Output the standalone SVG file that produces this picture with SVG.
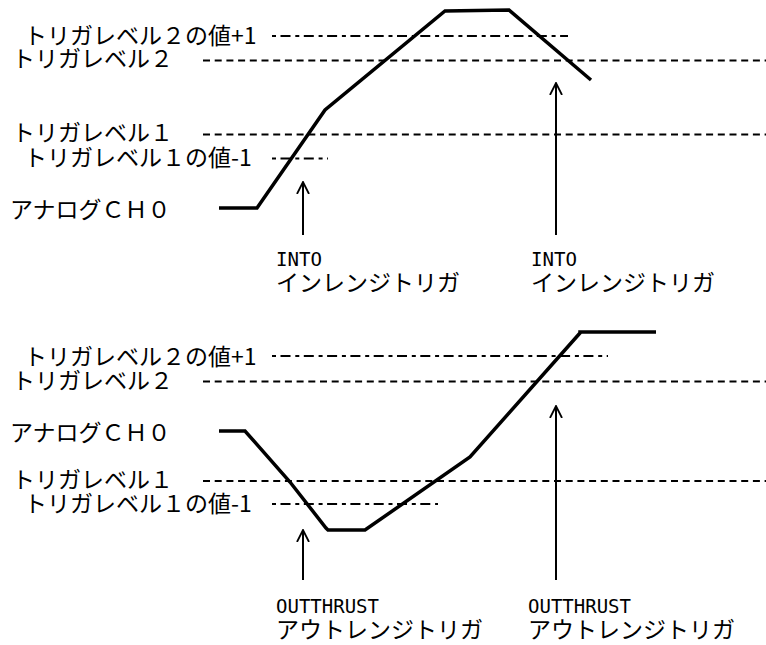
<svg xmlns="http://www.w3.org/2000/svg" width="766" height="645" viewBox="0 0 766 645">
<style>
.jp{font-family:"Noto Sans CJK JP","Noto Sans",sans-serif;font-size:23px;fill:#000}
.en{font-family:"DejaVu Sans Mono","Liberation Mono",monospace;font-size:20px;fill:#000}
.dash{stroke:#000;stroke-width:2;stroke-dasharray:7 4.7;fill:none}
.dd{stroke:#000;stroke-width:2;stroke-dasharray:4 4.5 10 4.8;fill:none}
.sig{stroke:#000;stroke-width:3.5;fill:none;stroke-linejoin:miter}
.arr{stroke:#000;stroke-width:2;fill:none;marker-end:url(#open)}
</style>
<defs>
<marker id="open" viewBox="0 0 13 14" refX="12" refY="7" markerWidth="13" markerHeight="14" markerUnits="userSpaceOnUse" orient="auto">
<path d="M0,1 L12,7 L0,13" fill="none" stroke="#000" stroke-width="1.8"/>
</marker>
</defs>
<g id="top-panel">
<g id="top-labels">
<text class="jp" x="24" y="44">トリガレベル２の値+1</text>
<text class="jp" x="12" y="67">トリガレベル２</text>
<text class="jp" x="12" y="141">トリガレベル１</text>
<text class="jp" x="24" y="166">トリガレベル１の値-1</text>
<text class="jp" x="10" y="218">アナログＣＨ０</text>
</g>
<g id="top-levels">
<line class="dd" x1="272" y1="36" x2="568" y2="36"/>
<line class="dash" x1="203" y1="60.5" x2="766" y2="60.5"/>
<line class="dash" x1="203" y1="134.5" x2="766" y2="134.5"/>
<line class="dd" x1="272" y1="158.5" x2="328" y2="158.5"/>
</g>
<polyline id="top-signal" class="sig" points="219,208 257,208 325,110 445,11 509,10 591,80"/>
<g id="top-into-left">
<text class="en" x="276" y="266" textLength="46" lengthAdjust="spacingAndGlyphs">INTO</text>
<text class="jp" x="276" y="291">インレンジトリガ</text>
</g>
<g id="top-into-right">
<text class="en" x="531" y="266" textLength="46" lengthAdjust="spacingAndGlyphs">INTO</text>
<text class="jp" x="531" y="291">インレンジトリガ</text>
</g>
</g>
<g id="bottom-panel">
<g id="bottom-labels">
<text class="jp" x="24" y="365">トリガレベル２の値+1</text>
<text class="jp" x="12" y="389">トリガレベル２</text>
<text class="jp" x="10" y="441">アナログＣＨ０</text>
<text class="jp" x="12" y="488">トリガレベル１</text>
<text class="jp" x="24" y="512">トリガレベル１の値-1</text>
</g>
<g id="bottom-levels">
<line class="dd" x1="272" y1="356" x2="608" y2="356"/>
<line class="dash" x1="203" y1="381.5" x2="766" y2="381.5"/>
<line class="dash" x1="203" y1="481" x2="766" y2="481"/>
<line class="dd" x1="272" y1="504" x2="438" y2="504"/>
</g>
<polyline id="bottom-signal" class="sig" points="219,431 245,431 290,482 326,528 328,530 365,530 470,457 580,333 580,332 656,332"/>
<g id="bottom-out-left">
<text class="en" x="276" y="613" textLength="103" lengthAdjust="spacingAndGlyphs">OUTTHRUST</text>
<text class="jp" x="276" y="638">アウトレンジトリガ</text>
</g>
<g id="bottom-out-right">
<text class="en" x="528" y="613" textLength="103" lengthAdjust="spacingAndGlyphs">OUTTHRUST</text>
<text class="jp" x="528" y="638">アウトレンジトリガ</text>
</g>
</g>
<g id="connectors">
<line class="arr" x1="303" y1="235" x2="303" y2="182"/>
<line class="arr" x1="556" y1="235" x2="556" y2="83"/>
<line class="arr" x1="303" y1="580" x2="303" y2="530"/>
<line class="arr" x1="556" y1="580" x2="556" y2="406"/>
</g>
</svg>
